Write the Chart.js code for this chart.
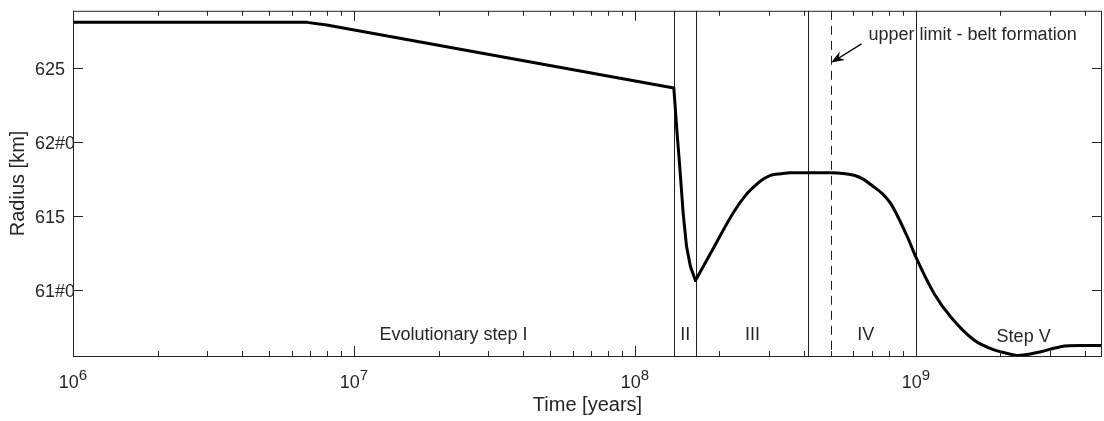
<!DOCTYPE html>
<html><head><meta charset="utf-8">
<script src="https://cdn.jsdelivr.net/npm/chart.js@4.4.0/dist/chart.umd.min.js"></script>
<style>html,body{margin:0;padding:0;background:#fff;}</style>
</head><body>
<canvas id="c" width="1104" height="421"></canvas>
<script>
// ---- data ----
const timeYears = [1e6, 6.8e6, 8.0e6, 1.376e8, 1.413e8, 1.442e8, 1.486e8, 1.528e8, 1.578e8, 1.643e8,
  1.858e8, 2.249e8, 2.477e8, 2.729e8, 2.877e8, 3.041e8, 3.302e8, 3.581e8, 4.977e8, 6.026e8,
  6.54e8, 7.096e8, 7.60e8, 8.147e8, 9.333e8, 1.0e9, 1.161e9, 1.33e9, 1.611e9, 1.901e9,
  2.239e9, 2.301e9, 2.786e9, 3.281e9, 3.864e9, 4.6e9];
const radiusKm = [628.05, 628.05, 627.87, 623.63, 620.6, 618.52, 615.16, 612.92, 611.57, 610.65,
  612.47, 615.27, 616.39, 617.18, 617.51, 617.74, 617.85, 617.92, 617.92, 617.74,
  617.45, 616.95, 616.51, 615.83, 613.59, 612.24, 609.78, 608.21, 606.64, 605.97,
  605.63, 605.59, 605.85, 606.19, 606.26, 606.26];
const dipIndex = 9; // sharp minimum of the curve (end of straight segments)
const yTickValues = [610, 615, 620, 625];
const yTickLabels = ['61#0', '615', '62#0', '625'];
const xDecadeExponents = [6, 7, 8, 9];
const stageBoundaries = [1.38e8, 1.65e8, 4.13e8, 1e9];
const beltLimit = 5e8;
const stageLabels = ['Evolutionary step I', 'II', 'III', 'IV', 'Step V'];
const stageLabelTimes = [2.26e7, 1.51e8, 2.62e8, 6.64e8, 2.42e9];
const stageLabelRadius = [606.97, 606.97, 606.97, 606.97, 606.85];
const noteText = 'upper limit - belt formation';
const noteAt = [6.79e8, 627.18];
const arrowFrom = [6.41e8, 626.6];
const arrowTo = [5e8, 625.34];
const xRange = [1e6, 4.6e9];
const yRange = [605.56, 628.83];

const INK = '#262626';
const FONT = "'Liberation Sans', Arial, Helvetica, sans-serif";

const points = timeYears.map((t, i) => ({x: t, y: radiusKm[i]}));

const overlay = {
  id: 'overlay',
  beforeDatasetsDraw(chart) {
    const {ctx, chartArea: a, scales: {x}} = chart;
    ctx.save();
    ctx.strokeStyle = '#1e1e1e';
    ctx.lineWidth = 1;
    stageBoundaries.forEach(v => {
      const px = Math.round(x.getPixelForValue(v)) + 0.5;
      ctx.beginPath(); ctx.moveTo(px, a.top); ctx.lineTo(px, a.bottom); ctx.stroke();
    });
    ctx.setLineDash([9, 6]);
    const pd = Math.round(x.getPixelForValue(beltLimit)) + 0.5;
    ctx.beginPath(); ctx.moveTo(pd, a.top); ctx.lineTo(pd, a.bottom); ctx.stroke();
    ctx.restore();
  },
  afterDraw(chart) {
    const {ctx, chartArea: a, scales: {x, y}} = chart;
    ctx.save();
    ctx.strokeStyle = INK; ctx.fillStyle = INK; ctx.lineWidth = 1;
    ctx.strokeRect(a.left + 0.5, a.top + 0.5, a.right - a.left - 1, a.bottom - a.top);
    yTickValues.forEach(v => {
      const py = Math.round(y.getPixelForValue(v)) + 0.5;
      ctx.beginPath();
      ctx.moveTo(a.left, py); ctx.lineTo(a.left + 10, py);
      ctx.moveTo(a.right, py); ctx.lineTo(a.right - 10, py);
      ctx.stroke();
    });
    for (let e = 6; e <= 9; e++) {
      for (let m = 1; m <= 9; m++) {
        const v = m * Math.pow(10, e);
        if (v < xRange[0] || v > xRange[1]) continue;
        const px = Math.round(x.getPixelForValue(v)) + 0.5;
        const len = m === 1 ? 10 : 5;
        ctx.beginPath();
        ctx.moveTo(px, a.bottom); ctx.lineTo(px, a.bottom - len);
        ctx.moveTo(px, a.top); ctx.lineTo(px, a.top + len);
        ctx.stroke();
      }
    }
    ctx.textBaseline = 'alphabetic';
    ctx.textAlign = 'left';
    xDecadeExponents.forEach(e => {
      const px = x.getPixelForValue(Math.pow(10, e));
      ctx.font = '18px ' + FONT;
      const w1 = ctx.measureText('10').width;
      ctx.font = '15px ' + FONT;
      const w2 = ctx.measureText(String(e)).width;
      const start = px - (w1 + w2) / 2;
      ctx.font = '18px ' + FONT;
      ctx.fillText('10', start, a.bottom + 32);
      ctx.font = '15px ' + FONT;
      ctx.fillText(String(e), start + w1, a.bottom + 24);
    });
    ctx.font = '18px ' + FONT;
    ctx.textAlign = 'center'; ctx.textBaseline = 'middle';
    stageLabels.forEach((t, i) => {
      ctx.fillText(t, x.getPixelForValue(stageLabelTimes[i]), y.getPixelForValue(stageLabelRadius[i]));
    });
    ctx.textAlign = 'left';
    ctx.fillText(noteText, x.getPixelForValue(noteAt[0]), y.getPixelForValue(noteAt[1]));
    const x0 = x.getPixelForValue(arrowFrom[0]), y0 = y.getPixelForValue(arrowFrom[1]);
    const x1 = x.getPixelForValue(arrowTo[0]), y1 = y.getPixelForValue(arrowTo[1]);
    const ang = Math.atan2(y1 - y0, x1 - x0);
    ctx.strokeStyle = '#000'; ctx.fillStyle = '#000'; ctx.lineWidth = 1.2;
    ctx.beginPath(); ctx.moveTo(x0, y0); ctx.lineTo(x1 - 6 * Math.cos(ang), y1 - 6 * Math.sin(ang)); ctx.stroke();
    const L = 13, W = 5;
    const bx = x1 - L * Math.cos(ang), by = y1 - L * Math.sin(ang);
    const nx = x1 - (L - 4) * Math.cos(ang), ny = y1 - (L - 4) * Math.sin(ang);
    ctx.beginPath();
    ctx.moveTo(x1, y1);
    ctx.lineTo(bx - W * Math.sin(ang), by + W * Math.cos(ang));
    ctx.lineTo(nx, ny);
    ctx.lineTo(bx + W * Math.sin(ang), by - W * Math.cos(ang));
    ctx.closePath(); ctx.fill();
    ctx.restore();
  }
};

new Chart(document.getElementById('c'), {
  type: 'line',
  data: {
    datasets: [{
      data: points.slice(0, dipIndex + 1),
      borderColor: '#000', borderWidth: 3, pointRadius: 0, tension: 0,
      borderJoinStyle: 'round', borderCapStyle: 'round', fill: false
    }, {
      data: points.slice(dipIndex),
      borderColor: '#000', borderWidth: 3, pointRadius: 0,
      cubicInterpolationMode: 'monotone',
      borderJoinStyle: 'round', borderCapStyle: 'round', fill: false
    }]
  },
  options: {
    responsive: false, animation: false, devicePixelRatio: 1,
    layout: {padding: {left: 35, right: 2, top: 10, bottom: 0}},
    plugins: {legend: {display: false}, tooltip: {enabled: false}},
    scales: {
      x: {
        type: 'logarithmic', min: xRange[0], max: xRange[1],
        grid: {display: false, drawTicks: false}, border: {display: false},
        ticks: {display: false},
        afterFit: s => { s.height = 65; },
        title: {display: true, text: 'Time [years]', color: INK, font: {family: FONT, size: 20}, padding: {top: 0, bottom: 4}}
      },
      y: {
        type: 'linear', min: yRange[0], max: yRange[1],
        afterBuildTicks: s => { s.ticks = yTickValues.map(v => ({value: v})); },
        afterFit: s => { s.width = 38; },
        grid: {display: false, drawTicks: false}, border: {display: false},
        ticks: {
          crossAlign: 'far', padding: 0, labelOffset: 2, color: INK,
          font: {family: FONT, size: 18},
          callback: v => yTickLabels[yTickValues.indexOf(v)]
        },
        title: {display: true, text: 'Radius [km]', color: INK, font: {family: FONT, size: 20}, padding: {top: -29, bottom: 0}}
      }
    }
  },
  plugins: [overlay]
});
</script>
</body></html>
